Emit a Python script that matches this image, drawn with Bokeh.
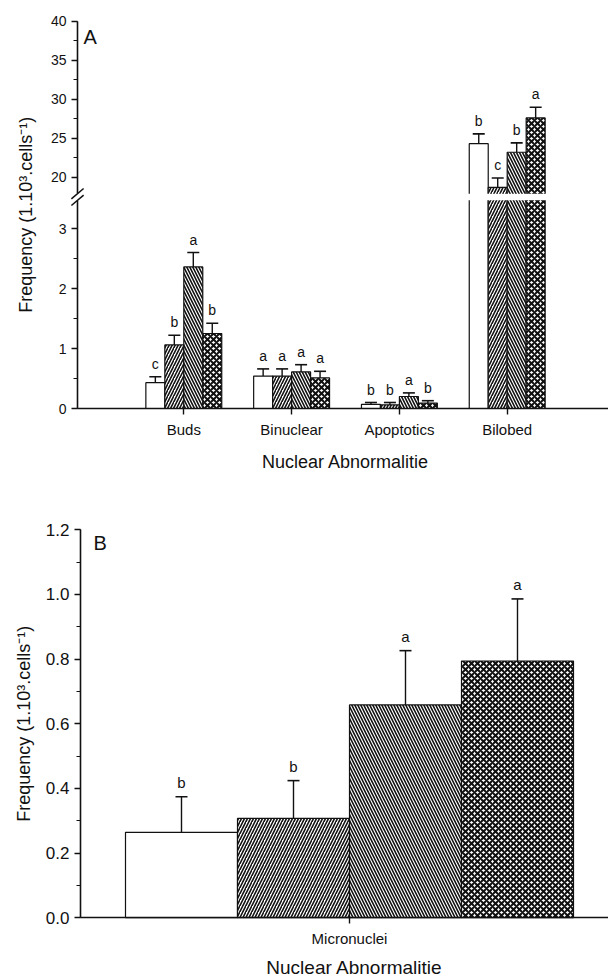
import math
from bokeh.plotting import figure
from bokeh.models import (ColumnDataSource, Range1d, FixedTicker, SingleIntervalTicker,
                          Label, PrintfTickFormatter, LinearAxis, CDSView, BooleanFilter)
from bokeh.layouts import column
from bokeh.transform import dodge
from bokeh.embed import file_html
from bokeh.resources import INLINE
from bokeh.core.properties import value

FONT = "Liberation Sans"
INK = "#111111"

# ---------------- data: panel A ----------------
categories_a = ["Buds", "Binuclear", "Apoptotics", "Bilobed"]
open_a = [0.43, 0.54, 0.07, 24.3]
forward_a = [1.06, 0.54, 0.06, 18.7]
backward_a = [2.36, 0.61, 0.20, 23.2]
checker_a = [1.25, 0.51, 0.09, 27.6]
open_err_a = [0.10, 0.12, 0.03, 1.26]
forward_err_a = [0.16, 0.12, 0.04, 1.20]
backward_err_a = [0.24, 0.12, 0.06, 1.20]
checker_err_a = [0.17, 0.11, 0.04, 1.37]
open_let_a = ["c", "a", "b", "b"]
forward_let_a = ["b", "a", "b", "c"]
backward_let_a = ["a", "a", "a", "b"]
checker_let_a = ["b", "a", "b", "a"]

# ---------------- data: panel B ----------------
categories_b = ["Micronuclei"]
open_b = [0.264]
forward_b = [0.307]
backward_b = [0.658]
checker_b = [0.794]
open_err_b = [0.110]
forward_err_b = [0.117]
backward_err_b = [0.168]
checker_err_b = [0.192]
open_let_b = ["b"]
forward_let_b = ["b"]
backward_let_b = ["a"]
checker_let_b = ["a"]

y_title = "Frequency (1.10³.cells⁻¹)"
x_title = "Nuclear Abnormalitie"

PATTERNS = [None, "/", "\\", "x"]
HATCH_W = [1.0, 1.6, 1.6, 2.0]
HATCH_S = [6, 6, 6, 6]

# broken axis of panel A: lower segment 0..LOW_END, upper segment HIGH_START..40
LOW_END = 3.47
HIGH_START = 17.9
CUT_LO = 3.53      # lower pieces of tall bars end inside the gap
CUT_HI = 17.6      # upper pieces of tall bars start inside the gap
GAP_TOP = 3.58     # white gap band (lower-scale units)

common = dict(output_backend="svg", toolbar_location=None, outline_line_color=None,
              min_border=0, x_axis_location=None, y_axis_location=None)


def style_axis(ax, label_size):
    ax.axis_line_width = 1.6
    ax.axis_line_color = INK
    ax.major_tick_line_color = INK
    ax.minor_tick_line_color = INK
    ax.major_tick_line_width = 1.4
    ax.minor_tick_line_width = 1.2
    ax.major_tick_out = 6
    ax.major_tick_in = 0
    ax.minor_tick_out = 4
    ax.minor_tick_in = 0
    ax.major_label_text_font = FONT
    ax.major_label_text_color = INK
    ax.major_label_text_font_size = label_size


def bar_group(p, src, xd, bar_w, top_field, bottom, i, **kw):
    p.vbar(x=xd, top=top_field, bottom=bottom, width=bar_w, source=src, fill_color="white",
           line_color=INK, line_width=1.2, hatch_pattern=PATTERNS[i], hatch_color=INK,
           hatch_scale=HATCH_S[i], hatch_weight=HATCH_W[i], **kw)


def err_group(p, src, xd, cap, let_size, let_off, **kw):
    p.segment(x0=xd, y0="val", x1=xd, y1="top", source=src, line_color=INK,
              line_width=1.4, **kw)
    p.scatter(x=xd, y="top", marker="dash", size=cap, source=src, line_color=INK,
              line_width=1.6, **kw)
    p.text(x=xd, y="top", text="let", source=src, text_align="center",
           text_baseline="middle", y_offset=let_off, text_font=value(FONT),
           text_font_size=let_size, text_color=INK, **kw)


def label(p, text, size, **kw):
    p.add_layout(Label(text=text, text_font=FONT, text_font_size=size, text_color=INK,
                       text_baseline="middle", **kw))


# ======================= Panel A =======================
AX_A = 0.0139                       # x position of the y axis
XA = Range1d(-0.7004, 4.9397)
pA = figure(width=608, height=480, x_range=XA, y_range=Range1d(-1.2, 6.8), **common)
pA.extra_y_ranges = {"top": Range1d(-18.885, 42.654)}
pA.grid.visible = False

series_a = [open_a, forward_a, backward_a, checker_a]
errs_a = [open_err_a, forward_err_a, backward_err_a, checker_err_a]
lets_a = [open_let_a, forward_let_a, backward_let_a, checker_let_a]
BW_A = 0.176
for i, (vals, e, l) in enumerate(zip(series_a, errs_a, lets_a)):
    src = ColumnDataSource(dict(pos=list(range(1, len(categories_a) + 1)), val=vals,
                                top=[v + d for v, d in zip(vals, e)], let=l,
                                low_top=[min(v, CUT_LO) for v in vals]))
    low = CDSView(filter=BooleanFilter([v < LOW_END for v in vals]))
    high = CDSView(filter=BooleanFilter([v > HIGH_START for v in vals]))
    xd = dodge("pos", (i - 1.5) * BW_A)
    bar_group(pA, src, xd, BW_A, "low_top", 0, i)
    bar_group(pA, src, xd, BW_A, "val", CUT_HI, i, y_range_name="top", view=high)
    err_group(pA, src, xd, 12, "14px", -13, view=low)
    err_group(pA, src, xd, 12, "14px", -13, view=high, y_range_name="top")

# white gap of the axis break and the break marks
pA.quad(left=[AX_A], right=[XA.end], bottom=[LOW_END], top=[GAP_TOP],
        fill_color="white", line_color=None)
pA.scatter(x=[AX_A, AX_A], y=[LOW_END, GAP_TOP], marker="dash", angle=0.7, size=16,
           line_color=INK, line_width=1.5)

ya_low = LinearAxis(fixed_location=AX_A, bounds=(0, LOW_END),
                    ticker=SingleIntervalTicker(interval=1, num_minor_ticks=2))
ya_high = LinearAxis(fixed_location=AX_A, bounds=(HIGH_START, 40.001), y_range_name="top",
                     ticker=SingleIntervalTicker(interval=5, num_minor_ticks=2))
xa = LinearAxis(fixed_location=0, bounds=(AX_A, XA.end),
                ticker=FixedTicker(ticks=list(range(1, len(categories_a) + 1))))
xa.major_label_overrides = {i + 1: c for i, c in enumerate(categories_a)}
for ax, side, size in [(ya_low, "left", "14px"), (ya_high, "left", "14px"), (xa, "below", "15px")]:
    style_axis(ax, size)
    pA.add_layout(ax, side)
xa.minor_tick_line_color = None
xa.major_label_standoff = 6

label(pA, "A", "20px", x=AX_A, y=40, y_range_name="top", x_offset=6, y_offset=-15.8)
label(pA, y_title, "18px", x=AX_A, y=LOW_END, x_offset=-52, y_offset=-14.5,
      angle=math.pi / 2, text_align="center")
label(pA, x_title, "18px", x=(1 + len(categories_a)) / 2, y=0, y_offset=-53.7,
      text_align="center")

# ======================= Panel B =======================
AX_B = 0.51964
XB = Range1d(0.37679, 1.46250)
pB = figure(width=608, height=497, x_range=XB, y_range=Range1d(-0.185, 1.3523), **common)
pB.grid.visible = False

series_b = [open_b, forward_b, backward_b, checker_b]
errs_b = [open_err_b, forward_err_b, backward_err_b, checker_err_b]
lets_b = [open_let_b, forward_let_b, backward_let_b, checker_let_b]
BW_B = 0.2
for i, (vals, e, l) in enumerate(zip(series_b, errs_b, lets_b)):
    src = ColumnDataSource(dict(pos=list(range(1, len(categories_b) + 1)), val=vals,
                                top=[v + d for v, d in zip(vals, e)], let=l))
    xd = dodge("pos", (i - 1.5) * BW_B)
    bar_group(pB, src, xd, BW_B, "val", 0, i)
    err_group(pB, src, xd, 12, "15px", -14)

yb = LinearAxis(fixed_location=AX_B, bounds=(0, 1.2001),
                ticker=SingleIntervalTicker(interval=0.2, num_minor_ticks=2),
                formatter=PrintfTickFormatter(format="%.1f"))
xb = LinearAxis(fixed_location=0, bounds=(AX_B, XB.end),
                ticker=FixedTicker(ticks=list(range(1, len(categories_b) + 1))))
xb.major_label_overrides = {i + 1: c for i, c in enumerate(categories_b)}
for ax, side, size in [(yb, "left", "17px"), (xb, "below", "15px")]:
    style_axis(ax, size)
    pB.add_layout(ax, side)
xb.minor_tick_line_color = None
xb.major_label_standoff = 6

label(pB, "B", "20px", x=AX_B, y=1.2, x_offset=13, y_offset=-12.8)
label(pB, y_title, "18px", x=AX_B, y=0.6, x_offset=-56,
      angle=math.pi / 2, text_align="center")
label(pB, x_title, "19px", x=1, y=0, x_offset=5, y_offset=-50.3, text_align="center")

layout = column(pA, pB, spacing=0)

open("out.html", "w").write(file_html(layout, INLINE))
